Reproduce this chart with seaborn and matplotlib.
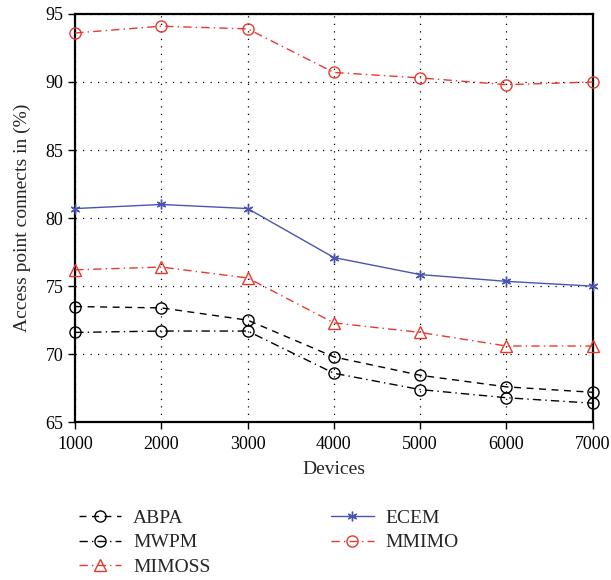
import numpy as np
import pandas as pd
import seaborn as sns
from matplotlib import pyplot as plt

devices = [1000, 2000, 3000, 4000, 5000, 6000, 7000]
abpa = [73.5, 73.4, 72.5, 69.8, 68.45, 67.6, 67.2]
mwpm = [71.6, 71.7, 71.7, 68.6, 67.4, 66.8, 66.4]
mimoss = [76.2, 76.4, 75.6, 72.3, 71.6, 70.6, 70.6]
ecem = [80.7, 81.0, 80.7, 77.1, 75.85, 75.35, 75.0]
mmimo = [93.6, 94.1, 93.9, 90.7, 90.3, 89.8, 90.0]

sns.set_style("ticks")
plt.rcParams['font.family'] = ['Liberation Serif', 'DejaVu Serif']

red = '#e8382e'
blue = '#4a55b0'

fig = plt.figure(figsize=(6.11, 5.80), dpi=100)
ax = fig.add_axes([0.123, 0.272, 0.847, 0.704])

series = [
    ('ABPA', abpa, 'black', (0, (5, 4)), 'o', 8),
    ('MWPM', mwpm, 'black', (0, (6, 3, 1, 3)), 'o', 8),
    ('MIMOSS', mimoss, red, (0, (6, 3, 1, 3)), '^', 9),
    ('ECEM', ecem, blue, '-', (6, 2, 0), 7),
    ('MMIMO', mmimo, red, (0, (6, 3, 1, 3)), 'o', 8),
]
for name, vals, col, ls, mk, ms in series:
    df = pd.DataFrame({'Devices': devices, 'val': vals})
    sns.lineplot(data=df, x='Devices', y='val', ax=ax, color=col, linestyle=ls,
                 marker=mk, markersize=ms, markerfacecolor='none',
                 markeredgecolor=col, markeredgewidth=1.0, linewidth=1.0,
                 label=name, clip_on=False, zorder=3)

ax.set_xlim(1000, 7000)
ax.set_ylim(65, 95)
ax.set_xticks(devices)
ax.set_yticks([65, 70, 75, 80, 85, 90, 95])
ax.grid(True, linestyle=(0, (1, 5)), color='black', linewidth=0.9)
for s in ax.spines.values():
    s.set_linewidth(1.6)
    s.set_color('black')
ax.tick_params(direction='out', length=5, width=1.0, labelsize=13, colors='black')
ax.tick_params(axis='x', pad=5)
ax.set_xlabel('Devices', fontsize=14, labelpad=6)
ax.set_ylabel('Access point connects in (%)', fontsize=14, labelpad=10)

ax.get_legend().remove()
handles, labels = ax.get_legend_handles_labels()
fig.legend(handles, labels,
           loc='upper left', bbox_to_anchor=(0.1, 0.152), ncol=2, frameon=False,
           fontsize=14, handlelength=2.2, handletextpad=0.6, columnspacing=6.2,
           labelspacing=0.35)

plt.savefig('out.png', dpi=100)
